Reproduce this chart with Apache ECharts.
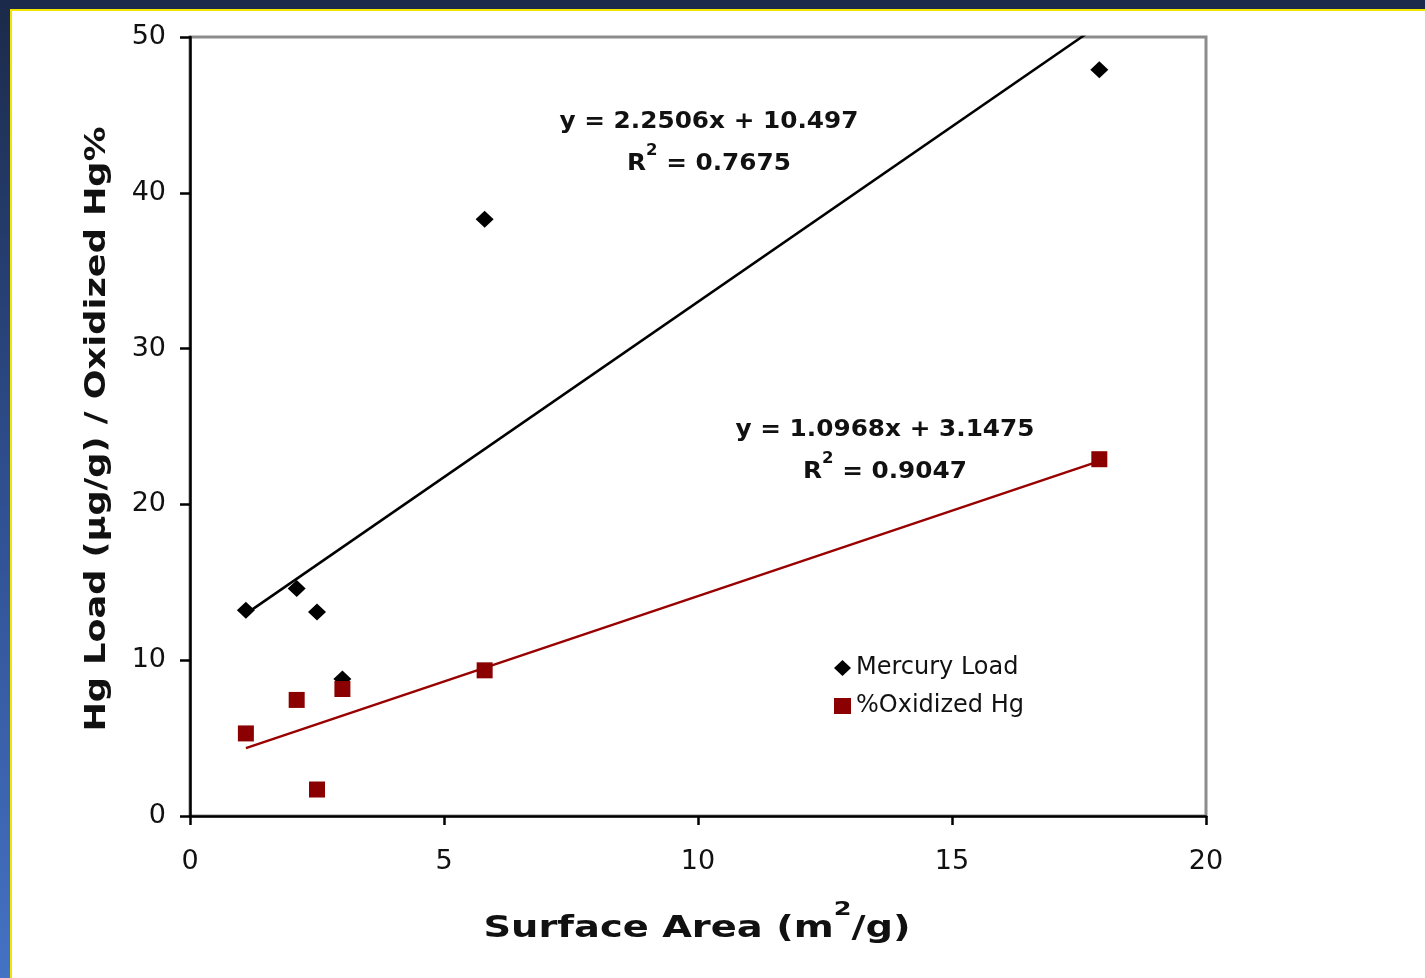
<!DOCTYPE html>
<html>
<head>
<meta charset="utf-8">
<script src="https://cdn.jsdelivr.net/npm/echarts@6/dist/echarts.min.js"></script>
<style>
html,body{margin:0;padding:0;background:#fff;}
#chart{width:1425px;height:978px;}
</style>
</head>
<body>
<div id="chart"></div>
<script>
// Data
const surfaceArea = [1.1, 2.1, 2.5, 3.0, 5.8, 17.9];
const mercuryLoad = [13.2, 14.6, 13.1, 8.8, 38.3, 47.9];
const oxidizedHg = [5.3, 7.45, 1.7, 8.15, 9.35, 22.9];
const xTicks = [0, 5, 10, 15, 20];
const yTicks = [0, 10, 20, 30, 40, 50];
const fitMercury = {slope: 2.2506, intercept: 10.497, r2: '0.7675', label: 'y = 2.2506x + 10.497'};
const fitOxidized = {slope: 1.0968, intercept: 3.1475, r2: '0.9047', label: 'y = 1.0968x + 3.1475'};
const seriesNames = ['Mercury Load', '%Oxidized Hg'];
const xTitle = ['Surface Area (m', '2', '/g)'];
const yTitle = 'Hg Load (µg/g) / Oxidized Hg%';

const xMin = Math.min(...surfaceArea), xMax = Math.max(...surfaceArea);
const trend = f => [[xMin, f.slope * xMin + f.intercept], [xMax, f.slope * xMax + f.intercept]];

const chart = echarts.init(document.getElementById('chart'), null, {renderer: 'canvas'});
const FONT = 'DejaVu Sans';

function richBold(size, supSize, lh) {
  return {
    r: {fontFamily: FONT, fontWeight: 'bold', fontSize: size, fill: '#111', color: '#111', lineHeight: lh, verticalAlign: 'bottom'},
    s: {fontFamily: FONT, fontWeight: 'bold', fontSize: supSize, fill: '#111', color: '#111', lineHeight: lh, verticalAlign: 'top'}
  };
}

function eqText(f, cx, y) {
  return [
    {type: 'text', z: 50, x: cx, y: y, scaleX: 1.1,
     style: {text: f.label, fill: '#111', font: 'bold 22.5px "DejaVu Sans"', textAlign: 'center', textVerticalAlign: 'middle'}},
    {type: 'text', z: 50, x: cx, y: y + 38, scaleX: 1.1,
     style: {text: '{r|R}{s|2}{r| = ' + f.r2 + '}', textAlign: 'center', textVerticalAlign: 'middle',
       rich: richBold(22.5, 15, 32)}}
  ];
}

const option = {
  backgroundColor: '#ffffff',
  animation: false,
  textStyle: {fontFamily: FONT},
  grid: {left: 190, top: 37, right: 219, bottom: 162, show: true, borderColor: '#8c8c8c', borderWidth: 3, containLabel: false},
  xAxis: {
    type: 'value', min: 0, max: 20, interval: 5,
    axisLine: {show: true, onZero: false, lineStyle: {color: '#000', width: 2.5}},
    axisTick: {show: true, length: 9, lineStyle: {color: '#000', width: 2.5}},
    axisLabel: {color: '#111', fontSize: 27, fontFamily: FONT, margin: 32},
    splitLine: {show: false}
  },
  yAxis: {
    type: 'value', min: 0, max: 50, interval: 10,
    axisLine: {show: true, onZero: false, lineStyle: {color: '#000', width: 2.5}},
    axisTick: {show: true, length: 10, lineStyle: {color: '#000', width: 2.5}},
    axisLabel: {color: '#111', fontSize: 27, fontFamily: FONT, margin: 24},
    splitLine: {show: false}
  },
  legend: {
    orient: 'vertical', left: 829, top: 651, itemGap: 14, itemWidth: 17, itemHeight: 16,
    textStyle: {fontFamily: FONT, fontSize: 24, color: '#111'},
    data: [{name: seriesNames[0], icon: 'diamond'}, {name: seriesNames[1], icon: 'rect'}]
  },
  series: [
    {name: 'trendMercury', type: 'line', data: trend(fitMercury), showSymbol: false, symbol: 'none',
     lineStyle: {color: '#000', width: 2.5}, clip: true, z: 2, silent: true},
    {name: 'trendOxidized', type: 'line', data: trend(fitOxidized), showSymbol: false, symbol: 'none',
     lineStyle: {color: '#990000', width: 2.5}, clip: true, z: 2, silent: true},
    {name: seriesNames[0], type: 'scatter', symbol: 'diamond', symbolSize: [18, 17],
     itemStyle: {color: '#000', opacity: 1}, data: surfaceArea.map((x, i) => [x, mercuryLoad[i]]), z: 3},
    {name: seriesNames[1], type: 'scatter', symbol: 'rect', symbolSize: 16,
     itemStyle: {color: '#8b0000', opacity: 1}, data: surfaceArea.map((x, i) => [x, oxidizedHg[i]]), z: 4}
  ],
  graphic: [
    {type: 'rect', shape: {x: 0, y: 0, width: 1425, height: 9}, style: {fill: '#1b2a4a'}, z: 100},
    {type: 'rect', shape: {x: 10, y: 9, width: 1415, height: 2}, style: {fill: '#f2e600'}, z: 100},
    {type: 'rect', shape: {x: 0, y: 0, width: 10, height: 978},
     style: {fill: new echarts.graphic.LinearGradient(0, 0, 0, 1, [{offset: 0, color: '#1b2a4a'}, {offset: 0.5, color: '#2f4f8f'}, {offset: 1, color: '#4472c4'}])}, z: 100},
    {type: 'rect', shape: {x: 10, y: 9, width: 2, height: 969}, style: {fill: '#f2e600'}, z: 100},
    ...eqText(fitMercury, 709, 122),
    ...eqText(fitOxidized, 885, 430),
    {type: 'text', z: 50, x: 697, y: 922, scaleX: 1.28,
     style: {text: '{r|' + xTitle[0] + '}{s|' + xTitle[1] + '}{r|' + xTitle[2] + '}', textAlign: 'center', textVerticalAlign: 'middle',
       rich: richBold(30, 20, 44)}},
    {type: 'text', z: 50, x: 97, y: 429, rotation: Math.PI / 2, scaleX: 1.21,
     style: {text: yTitle, font: 'bold 29px "DejaVu Sans"', fill: '#111', textAlign: 'center', textVerticalAlign: 'middle'}}
  ]
};
chart.setOption(option);
</script>
</body>
</html>
